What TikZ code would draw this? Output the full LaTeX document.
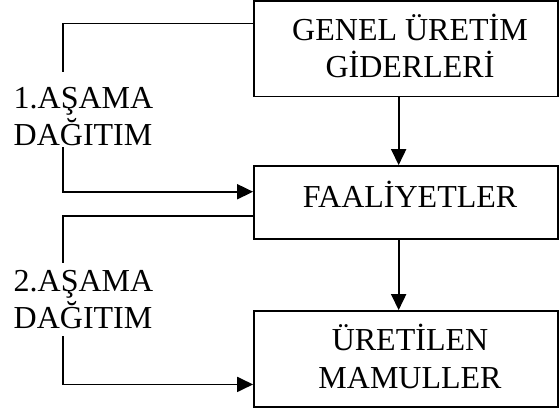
\documentclass[tikz,border=0pt]{standalone}
\usepackage{fontspec}
\setmainfont{Liberation Serif}
\usetikzlibrary{arrows.meta,calc}
\newcommand{\rsh}{\hspace*{8pt}}
\begin{document}
\begin{tikzpicture}[x=1pt,y=-1pt,
  txt/.style={font=\fontsize{32}{36.8}\selectfont},
  box/.style={txt,draw,line width=1.8pt,inner sep=0pt,minimum width=304pt,align=center},
  lbl/.style={txt,inner sep=0pt,anchor=north west,align=left},
  conn/.style={line width=1.8pt},
  arr/.style={conn,-{Triangle[length=16pt,width=15pt]}}]
\useasboundingbox (0,0) rectangle (559,410);
\node[box,minimum height=95.5pt,text height=60pt,text depth=2.9pt] (g) at (406,48.75) {\rsh GENEL ÜRETİM\\\rsh GİDERLERİ};
\node[box,minimum height=73pt,text height=28pt,text depth=18.4pt] (f) at (406,202.5) {\rsh FAALİYETLER};
\node[box,minimum height=96pt,text height=62pt,text depth=3.4pt,font=\fontsize{32}{38.3}\selectfont] (u) at (406,359) {\rsh ÜRETİLEN\\\rsh MAMULLER};
\node[lbl,text height=59pt,text depth=2pt] (l1) at (13.5,86) {1.AŞAMA\\DAĞITIM};
\node[lbl,text height=58pt,text depth=8pt] (l2) at (13.5,270) {2.AŞAMA\\DAĞITIM};
\coordinate (p1) at (62.7,71.7);
\coordinate (p2) at (62.7,147);
\coordinate (p3) at (62.7,263);
\coordinate (p4) at (62.7,336);
\draw[conn] ($(g.north west)!0.24!(g.south west)$) -| (p1);
\draw[arr] (p2) |- ($(f.north west)!0.356!(f.south west)$);
\draw[conn] ($(f.north west)!0.685!(f.south west)$) -| (p3);
\draw[arr] (p4) |- ($(u.north west)!0.76!(u.south west)$);
\draw[arr] ($(g.south west)!0.476!(g.south east)$) coordinate (v1) -- (v1 |- f.north);
\draw[arr] ($(f.south west)!0.476!(f.south east)$) coordinate (v2) -- (v2 |- u.north);
\end{tikzpicture}
\end{document}
